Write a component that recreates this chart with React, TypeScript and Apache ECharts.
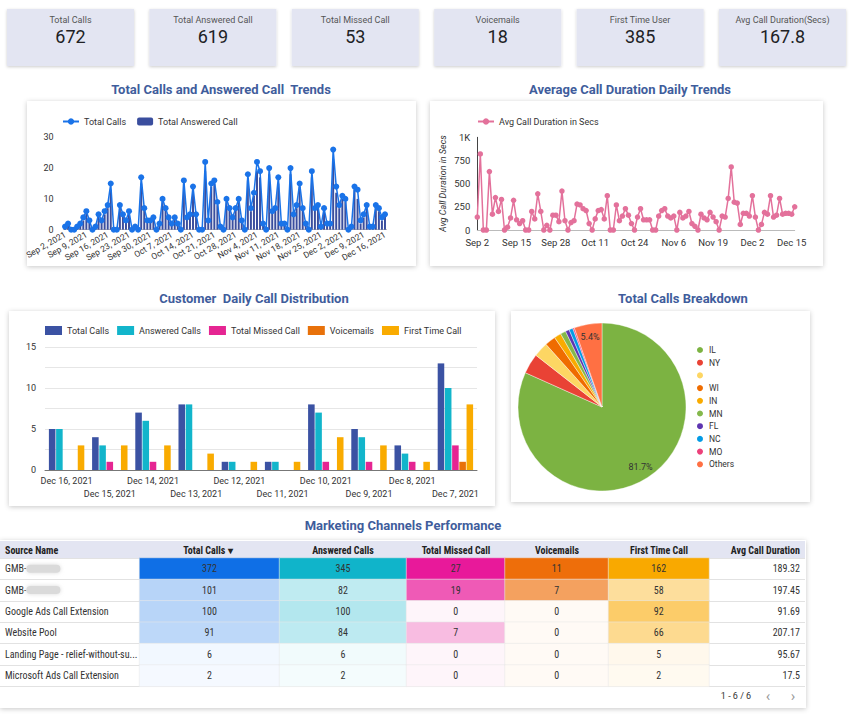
import React, { useEffect, useRef } from 'react';
import * as echarts from 'echarts';

const FONT = 'Roboto, "Noto Sans", sans-serif';
const TABLE_FONT = '"Liberation Sans Narrow", "Roboto Condensed", Roboto, sans-serif';

// KPI cards
const kpiLabels = ['Total Calls', 'Total Answered Call', 'Total Missed Call', 'Voicemails', 'First Time User', 'Avg Call Duration(Secs)'];
const kpiValues = ['672', '619', '53', '18', '385', '167.8'];

// daily trend categories (Sep 2 – Dec 16, 2021)
const monthRanges: [string, number, number][] = [['Sep', 2, 30], ['Oct', 1, 31], ['Nov', 1, 30], ['Dec', 1, 16]];
const trendDates: string[] = [];
for (const [m, a, b] of monthRanges) for (let d = a; d <= b; d++) trendDates.push(`${m} ${d}`);

const totalCallsDaily = [
  1, 2, 0, 0, 1, 2, 4, 6, 3, 0,
  1, 5, 3, 6, 8, 15, 0, 0, 8, 5,
  3, 6, 0, 1, 0, 17, 7, 3, 3, 4,
  0, 2, 10, 7, 4, 2, 4, 2, 0, 16,
  4, 5, 14, 5, 0, 0, 22, 3, 15, 16,
  9, 1, 0, 10, 7, 4, 7, 10, 3, 0,
  18, 7, 12, 22, 19, 2, 0, 20, 6, 7,
  17, 2, 2, 0, 20, 5, 8, 15, 7, 2,
  0, 19, 7, 8, 1, 7, 2, 2, 26, 14,
  8, 11, 10, 0, 1, 14, 13, 3, 5, 8,
  1, 1, 8, 7, 4, 5,
];
const answeredCallsDaily = [
  1, 2, 0, 0, 1, 2, 3, 6, 3, 0,
  1, 5, 3, 5, 7, 13, 0, 0, 8, 5,
  3, 6, 0, 1, 0, 15, 7, 3, 3, 4,
  0, 2, 9, 7, 4, 2, 4, 2, 0, 15,
  4, 5, 13, 5, 0, 0, 19, 3, 14, 15,
  8, 1, 0, 9, 7, 4, 7, 9, 3, 0,
  16, 6, 11, 19, 17, 2, 0, 18, 6, 7,
  15, 2, 2, 0, 18, 5, 7, 14, 7, 2,
  0, 17, 7, 8, 1, 7, 2, 2, 23, 12,
  7, 10, 9, 0, 1, 13, 10, 2, 4, 7,
  1, 1, 8, 6, 3, 5,
];
const avgDurationDaily = [
  140, 820, 0, 0, 630, 170, 350, 200, 330, 0,
  30, 130, 320, 110, 70, 100, 0, 0, 200, 120,
  390, 200, 0, 50, 0, 160, 160, 90, 420, 100,
  0, 80, 100, 280, 270, 230, 210, 70, 0, 120,
  210, 220, 120, 370, 0, 0, 270, 100, 150, 230,
  160, 70, 0, 140, 230, 110, 110, 110, 0, 0,
  150, 210, 230, 150, 130, 150, 0, 190, 130, 150,
  200, 70, 40, 0, 170, 130, 110, 190, 140, 90,
  0, 150, 140, 340, 680, 300, 290, 60, 180, 180,
  150, 370, 140, 0, 60, 190, 170, 370, 140, 160,
  340, 170, 180, 180, 170, 250,
];

// customer daily distribution
const distDays = ['Dec 16, 2021', 'Dec 15, 2021', 'Dec 14, 2021', 'Dec 13, 2021', 'Dec 12, 2021', 'Dec 11, 2021', 'Dec 10, 2021', 'Dec 9, 2021', 'Dec 8, 2021', 'Dec 7, 2021'];
const distTotal = [5, 4, 7, 8, 1, 1, 8, 5, 3, 13];
const distAnswered = [5, 3, 6, 8, 1, 1, 7, 4, 2, 10];
const distMissed = [0, 1, 1, 0, 0, 0, 1, 1, 1, 3];
const distVoicemail = [0, 0, 0, 0, 0, 0, 0, 0, 0, 1];
const distFirstTime = [3, 3, 3, 2, 1, 1, 4, 3, 1, 8];
const distNames = ['Total Calls', 'Answered Calls', 'Total Missed Call', 'Voicemails', 'First Time Call'];
const distColors = ['#3B52A3', '#12B5CB', '#E52592', '#E8710A', '#F9AB00'];

// pie
const stateNames = ['IL', 'NY', ' ', 'WI', 'IN', 'MN', 'FL', 'NC', 'MO', 'Others'];
const stateCalls = [549, 26, 19, 14, 9, 7, 5, 5, 2, 36];
const stateColors = ['#7CB342', '#E94235', '#FDD663', '#EF6C00', '#F9AB00', '#84B84C', '#5E35B1', '#039BE5', '#EC407A', '#FF7043'];

// table
const tableHeaders = ['Source Name', 'Total Calls ▾', 'Answered Calls', 'Total Missed Call', 'Voicemails', 'First Time Call', 'Avg Call Duration'];
const sourceNames = ['GMB-', 'GMB-', 'Google Ads Call Extension', 'Website Pool', 'Landing Page - relief-without-su...', 'Microsoft Ads Call Extension'];
const sourceBlurred = [true, true, false, false, false, false];
const tableTotal = [372, 101, 100, 91, 6, 2];
const tableAnswered = [345, 82, 100, 84, 6, 2];
const tableMissed = [27, 19, 0, 7, 0, 0];
const tableVoicemail = [11, 7, 0, 0, 0, 0];
const tableFirstTime = [162, 58, 92, 66, 5, 2];
const tableAvgDuration = ['189.32', '197.45', '91.69', '207.17', '95.67', '17.5'];

const tableCols = [tableTotal, tableAnswered, tableMissed, tableVoicemail, tableFirstTime];
const tableColFull = ['#0F6FE6', '#10B4CA', '#E8199A', '#EE6E0A', '#F9A900'];
const tableColLight = ['#F6FAFF', '#F5FCFD', '#FEF5FA', '#FFFAF5', '#FFFBF3'];

// layout
const colEdges = [139.5, 279.5, 406.5, 505, 608.5, 709];
const headerX = [5, 208, 343, 456, 557, 659, 800];
const headerAlign = ['left', 'center', 'center', 'center', 'center', 'center', 'right'];
const TABLE_TOP = 558;
const ROW_H = 21.4;
const TITLE_COLOR = '#3F5D9C';

function buildOption(): any {
  const shadowBox = (x: number, y: number, w: number, h: number) => ({
    type: 'rect', z: 0,
    shape: { x, y, width: w, height: h },
    style: { fill: '#fff', shadowBlur: 5, shadowColor: 'rgba(0,0,0,0.22)', shadowOffsetY: 1 },
  });

  const graphic: any[] = [];
  kpiLabels.forEach((lab, i) => {
    const x = 7 + i * 142.4;
    graphic.push({
      type: 'rect', z: 0, shape: { x, y: 9, width: 127, height: 57 },
      style: { fill: '#E3E5F2', shadowBlur: 3, shadowColor: 'rgba(0,0,0,0.2)', shadowOffsetY: 1 },
    });
    graphic.push({ type: 'text', z: 1, style: { text: lab, x: x + 63.5, y: 20, align: 'center', verticalAlign: 'middle', fontSize: 9, fill: '#555', fontFamily: FONT } });
    graphic.push({ type: 'text', z: 1, style: { text: kpiValues[i], x: x + 63.5, y: 36, align: 'center', verticalAlign: 'middle', fontSize: 18, fill: '#202124', fontFamily: FONT } });
  });
  graphic.push(shadowBox(27, 101, 389, 165));
  graphic.push(shadowBox(430, 101, 393, 165));
  graphic.push(shadowBox(9, 311, 486, 195));
  graphic.push(shadowBox(511, 311, 299, 191));
  graphic.push(shadowBox(0, 540, 806, 168));
  graphic.push({ type: 'rect', z: 1, shape: { x: 0, y: 541, width: 805, height: 17 }, style: { fill: '#E3E5F2' } });
  tableHeaders.forEach((h, i) => {
    graphic.push({ type: 'text', z: 2, style: { text: h, x: headerX[i], y: 550, align: headerAlign[i], verticalAlign: 'middle', fontSize: 10, fontWeight: 'bold', fill: '#222', fontFamily: TABLE_FONT } });
  });
  graphic.push({ type: 'text', z: 2, style: { text: '1 - 6 / 6', x: 736, y: 696, align: 'center', verticalAlign: 'middle', fontSize: 9, fill: '#333', fontFamily: FONT } });
  graphic.push({ type: 'text', z: 2, style: { text: '‹', x: 768, y: 696, align: 'center', verticalAlign: 'middle', fontSize: 15, fill: '#999', fontFamily: FONT } });
  graphic.push({ type: 'text', z: 2, style: { text: '›', x: 793, y: 696, align: 'center', verticalAlign: 'middle', fontSize: 15, fill: '#999', fontFamily: FONT } });

  const titleStyle = { fontSize: 13, fontWeight: 'bold', color: TITLE_COLOR, fontFamily: FONT };
  const title = [
    { text: 'Total Calls and Answered Call  Trends', left: 221, top: 83, textAlign: 'center', padding: 0, textStyle: titleStyle },
    { text: 'Average Call Duration Daily Trends', left: 630, top: 83, textAlign: 'center', padding: 0, textStyle: titleStyle },
    { text: 'Customer  Daily Call Distribution', left: 254, top: 292, textAlign: 'center', padding: 0, textStyle: titleStyle },
    { text: 'Total Calls Breakdown', left: 683, top: 292, textAlign: 'center', padding: 0, textStyle: titleStyle },
    { text: 'Marketing Channels Performance', left: 403, top: 519, textAlign: 'center', padding: 0, textStyle: titleStyle },
  ];

  const legText = { fontSize: 9, color: '#333', fontFamily: FONT };
  const legend = [
    { data: ['Total Calls', 'Total Answered Call'], left: 62, top: 117, itemWidth: 16, itemHeight: 8, itemGap: 11, padding: 0, textStyle: legText },
    { data: ['Avg Call Duration in Secs'], left: 477, top: 117, itemWidth: 16, itemHeight: 8, padding: 0, textStyle: legText },
    {
      data: distNames.map((n, i) => ({ name: n, icon: 'rect', itemStyle: { color: distColors[i] } })),
      left: 45, top: 326, itemWidth: 17, itemHeight: 9, itemGap: 8, padding: 0, textStyle: legText,
    },
    { data: stateNames, orient: 'vertical', left: 695, top: 345, itemWidth: 8, itemHeight: 8, itemGap: 2.7, icon: 'circle', padding: 0, textStyle: { ...legText, fontSize: 8.5 } },
  ];

  const grid: any[] = [
    { left: 63.5, top: 137.3, width: 323, height: 92.4, outerBoundsMode: 'none' },
    { left: 477.3, top: 137.3, width: 317.4, height: 92.7, outerBoundsMode: 'none' },
    { left: 45, top: 347, width: 432, height: 123, outerBoundsMode: 'none' },
    { left: 0, top: TABLE_TOP, width: 805, height: ROW_H * 6, outerBoundsMode: 'none' },
  ];
  for (let i = 0; i < 5; i++) {
    grid.push({ left: colEdges[i], top: TABLE_TOP, width: colEdges[i + 1] - colEdges[i], height: ROW_H * 6, outerBoundsMode: 'none' });
  }

  const axLabel = { fontSize: 9, color: '#333', fontFamily: FONT };
  const rowIdx = sourceNames.map((_, i) => String(i));
  const xAxis: any[] = [
    {
      type: 'category', gridIndex: 0, data: trendDates,
      axisTick: { show: false }, axisLine: { lineStyle: { color: '#bbb' } },
      axisLabel: { ...axLabel, fontSize: 8.5, rotate: 30, interval: 6, margin: 4, formatter: (v: string) => v + ', 2021' },
    },
    {
      type: 'category', gridIndex: 1, data: trendDates, boundaryGap: false,
      axisTick: { show: false }, axisLine: { lineStyle: { color: '#bbb' } },
      axisLabel: { ...axLabel, fontSize: 9.5, interval: 12, margin: 7 },
    },
    {
      type: 'category', gridIndex: 2, data: distDays,
      axisTick: { show: false }, axisLine: { lineStyle: { color: '#777' } },
      axisLabel: { ...axLabel, interval: 0, margin: 4, lineHeight: 13, formatter: (v: string, i: number) => (i % 2 ? '\n' + v : v) },
    },
    { type: 'value', gridIndex: 3, min: 0, max: 1, show: false },
  ];
  for (let i = 0; i < 5; i++) xAxis.push({ type: 'category', gridIndex: 4 + i, data: [tableHeaders[i + 1]], show: false });

  const tblLabel = { fontSize: 10, color: '#333', fontFamily: TABLE_FONT };
  const yAxis: any[] = [
    {
      type: 'value', gridIndex: 0, min: 0, max: 30, interval: 10,
      splitLine: { show: false }, axisLine: { show: false }, axisTick: { show: false },
      axisLabel: { ...axLabel, margin: 10 },
    },
    {
      type: 'value', gridIndex: 1, min: 0, max: 1000, interval: 250,
      splitLine: { show: false }, axisLine: { show: true, lineStyle: { color: '#444' } }, axisTick: { show: false },
      axisLabel: { ...axLabel, fontSize: 9.5, margin: 7, formatter: (v: number) => (v >= 1000 ? '1K' : String(v)) },
      name: 'Avg Call Duration in Secs', nameLocation: 'middle', nameGap: 30,
      nameTextStyle: { fontSize: 9, fontStyle: 'italic', color: '#333', fontFamily: FONT },
    },
    {
      type: 'value', gridIndex: 2, min: 0, max: 15, interval: 2.5,
      splitLine: { lineStyle: { color: '#e6e6e6' } }, axisLine: { show: false }, axisTick: { show: false },
      axisLabel: { ...axLabel, margin: 9, formatter: (v: number) => (v % 5 === 0 ? String(v) : '') },
    },
    {
      type: 'category', gridIndex: 3, data: rowIdx, inverse: true, position: 'left',
      axisLine: { show: false }, axisTick: { show: false },
      splitLine: { show: true, lineStyle: { color: '#e2e2e2' } },
      axisLabel: {
        ...tblLabel, inside: true, align: 'left', margin: 5,
        formatter: (_v: string, i: number) => (sourceBlurred[i] ? sourceNames[i] + '{b| }' : sourceNames[i]),
        rich: { b: { width: 34, height: 8, backgroundColor: '#dadada', borderRadius: 4, shadowBlur: 4, shadowColor: '#dadada' } },
      },
    },
    {
      type: 'category', gridIndex: 3, data: tableAvgDuration, inverse: true, position: 'right',
      axisLine: { show: false }, axisTick: { show: false }, splitLine: { show: false },
      axisLabel: { ...tblLabel, inside: true, align: 'right', margin: 5 },
    },
  ];
  for (let i = 0; i < 5; i++) yAxis.push({ type: 'category', gridIndex: 4 + i, data: rowIdx, inverse: true, show: false });

  const series: any[] = [
    {
      name: 'Total Answered Call', type: 'bar', xAxisIndex: 0, yAxisIndex: 0, data: answeredCallsDaily,
      barCategoryGap: '35%', itemStyle: { color: '#3A4E9E' }, z: 2,
    },
    {
      name: 'Total Calls', type: 'line', xAxisIndex: 0, yAxisIndex: 0, data: totalCallsDaily,
      symbol: 'circle', symbolSize: 6, showAllSymbol: true, z: 3,
      itemStyle: { color: '#1A73E8' }, lineStyle: { color: '#1A73E8', width: 1.5 },
    },
    {
      name: 'Avg Call Duration in Secs', type: 'line', xAxisIndex: 1, yAxisIndex: 1, data: avgDurationDaily,
      symbol: 'circle', symbolSize: 5.5, showAllSymbol: true,
      itemStyle: { color: '#E3719B' }, lineStyle: { color: '#E3719B', width: 1.5 },
    },
  ];
  const distData = [distTotal, distAnswered, distMissed, distVoicemail, distFirstTime];
  distNames.forEach((n, i) => {
    series.push({
      name: n, type: 'bar', xAxisIndex: 2, yAxisIndex: 2, data: distData[i],
      barCategoryGap: '18%', barGap: '10%', itemStyle: { color: distColors[i] },
    });
  });
  series.push({
    name: 'Total Calls Breakdown', type: 'pie', center: [602, 407], radius: [0, 84],
    startAngle: 90, clockwise: true, label: { show: false }, labelLine: { show: false },
    itemStyle: { borderColor: '#fff', borderWidth: 0.4 },
    emphasis: { disabled: true },
    data: stateNames.map((n, i) => ({ name: n, value: stateCalls[i], itemStyle: { color: stateColors[i] } })),
  });
  series.push({
    name: 'Breakdown Labels', type: 'pie', center: [602, 407], radius: [52, 84], silent: true,
    startAngle: 90, clockwise: true, legendHoverLink: false,
    label: {
      show: true, position: 'inside', fontSize: 9, color: '#333', fontFamily: FONT,
      formatter: (p: any) => (p.percent >= 5 ? p.percent.toFixed(1) + '%' : ''),
    },
    labelLine: { show: false }, emphasis: { disabled: true },
    data: stateNames.map((n, i) => ({ name: n, value: stateCalls[i], itemStyle: { color: 'rgba(0,0,0,0)' } })),
  });
  const heatStart = series.length;
  tableCols.forEach((col, i) => {
    series.push({
      name: tableHeaders[i + 1], type: 'heatmap', xAxisIndex: 4 + i, yAxisIndex: 5 + i,
      data: col.map((v, r) => [0, r, v]),
      itemStyle: { borderColor: 'rgba(232,232,232,0.9)', borderWidth: 0.6 },
      emphasis: { disabled: true },
      label: { show: true, ...tblLabel, formatter: (p: any) => String(p.value[2]) },
    });
  });

  const visualMap = tableCols.map((col, i) => ({
    type: 'continuous', show: false, seriesIndex: heatStart + i, dimension: 2,
    min: 0, max: Math.max(...col), inRange: { color: [tableColLight[i], tableColFull[i]] },
  }));

  return {
    animation: false,
    backgroundColor: '#ffffff',
    textStyle: { fontFamily: FONT },
    title, legend, grid, xAxis, yAxis, series, visualMap, graphic,
  };
}

export default function App() {
  const ref = useRef<HTMLDivElement>(null);
  useEffect(() => {
    document.body.style.margin = '0';
    const chart = echarts.init(ref.current!, null, { renderer: 'svg' });
    chart.setOption(buildOption());
    return () => chart.dispose();
  }, []);
  return <div ref={ref} style={{ width: 855, height: 714 }} />;
}
